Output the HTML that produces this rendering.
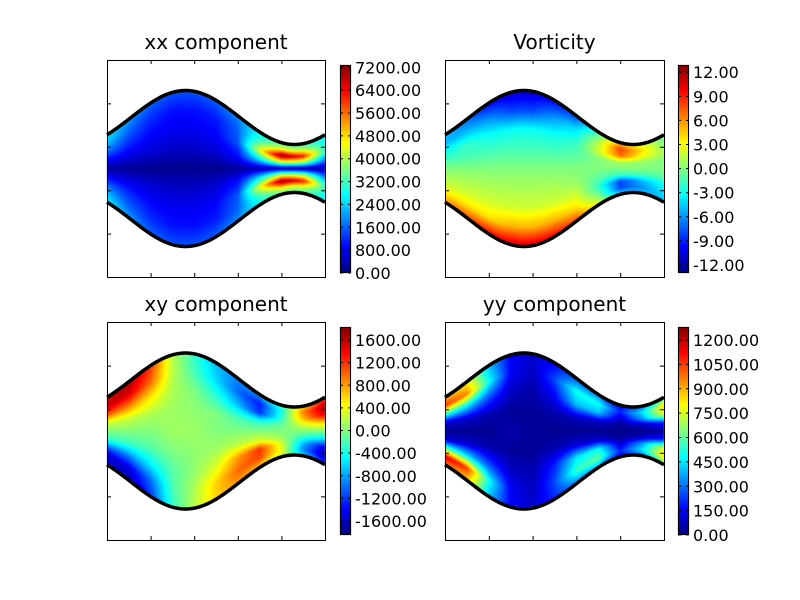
<!DOCTYPE html>
<html><head><meta charset="utf-8"><style>
body{margin:0;background:#fff;width:800px;height:600px;overflow:hidden;position:relative}
canvas,svg{position:absolute;left:0;top:0}
text{font-family:"DejaVu Sans","Liberation Sans",sans-serif;fill:#000}
</style></head><body>
<canvas id="cv" width="800" height="600"></canvas>
<svg id="sv" width="800" height="600"></svg>
<script>
// ---- data (rows: eta -1 (top wall) .. +1 (bottom wall); cols: 11 x positions across axes)
const xxGrid = [
[2600,2000,1600,1500,1500,1600,1900,2600,3200,3000,2600],
[2300,1600,1200,1000,1000,1100,1600,3200,4500,4200,2800],
[1700,1200,900,800,800,900,1500,4400,7200,6200,3000],
[900,700,600,500,500,600,1000,2600,4200,3800,1800],
[200,150,100,100,100,100,200,300,400,300,200],
[900,700,600,500,500,600,1000,2600,4200,3800,1800],
[1700,1200,900,800,800,900,1500,4400,7200,6200,3000],
[2300,1600,1200,1000,1000,1100,1600,3200,4500,4200,2800],
[2600,2000,1600,1500,1500,1600,1900,2600,3200,3000,2600]];
const vortGrid = [
[-5,-7,-10,-11,-11,-10,-8,-2,5,2,-1],
[-5,-5,-6,-8,-8,-6,-4,1,8,4,0],
[-3,-2,-3,-3,-3,-3,-2,2,7,3,1],
[-1.5,-1.5,-1.5,-1.5,-1.5,-1.5,-1,0,1,0.5,0],
[0,0,0,0,0,0,0,0,0,0,0],
[1,1,1,1,1,1,0.5,-1,-2,-1.5,-1],
[2,2,2,2,2,2,2,-2,-8,-5,-3],
[4,4,4,5,5,5,4,0,-8,-6,-4],
[6,8,10,11,11,10,8,3,-4,-5,-5]];
const xyGrid = [
[1500,1700,1200,200,-300,-700,-900,-800,-300,600,1200],
[1600,1500,1000,200,-200,-600,-1000,-1300,-400,900,1700],
[1100,900,500,150,0,-300,-700,-1200,-300,700,1500],
[300,250,150,100,50,0,-200,-300,-100,300,600],
[0,0,0,100,100,0,0,0,0,0,0],
[-300,-250,-150,0,50,100,200,300,100,-300,-600],
[-1100,-900,-500,-150,50,300,800,1200,300,-700,-1500],
[-1600,-1500,-1000,-200,150,600,1000,1100,400,-900,-1700],
[-1500,-1700,-1200,-300,200,600,800,600,200,-600,-1200]];
const yyGrid = [
[900,800,400,150,100,150,250,300,150,300,600],
[1050,950,500,150,80,250,500,500,200,450,850],
[550,450,250,80,50,150,400,400,100,350,750],
[100,100,60,30,30,50,80,80,30,80,200],
[20,20,20,60,30,20,20,20,20,20,30],
[100,100,60,30,30,60,100,100,30,80,200],
[600,450,250,80,60,200,450,500,100,350,750],
[1150,1050,500,150,80,250,550,600,200,450,850],
[950,850,400,150,100,200,300,350,150,300,600]];
const xxTicks = ["0.00","800.00","1600.00","2400.00","3200.00","4000.00","4800.00","5600.00","6400.00","7200.00"];
const xxTickVals = [0,800,1600,2400,3200,4000,4800,5600,6400,7200];
const vortTicks = ["-12.00","-9.00","-6.00","-3.00","0.00","3.00","6.00","9.00","12.00"];
const vortTickVals = [-12,-9,-6,-3,0,3,6,9,12];
const xyTicks = ["-1600.00","-1200.00","-800.00","-400.00","0.00","400.00","800.00","1200.00","1600.00"];
const xyTickVals = [-1600,-1200,-800,-400,0,400,800,1200,1600];
const yyTicks = ["0.00","150.00","300.00","450.00","600.00","750.00","900.00","1050.00","1200.00"];
const yyTickVals = [0,150,300,450,600,750,900,1050,1200];

const panels = [
 {name:"xx",title:"xx component",ax:[107,60,218,217],cb:[340,65,11,208],vmin:0,vmax:7280,grid:xxGrid,ticks:xxTicks,tv:xxTickVals},
 {name:"vorticity",title:"Vorticity",ax:[445,60,219,217],cb:[678,65,11,208],vmin:-13,vmax:12.9,grid:vortGrid,ticks:vortTicks,tv:vortTickVals},
 {name:"xy",title:"xy component",ax:[107,322,218,218],cb:[340,327,11,208],vmin:-1847,vmax:1831,grid:xyGrid,ticks:xyTicks,tv:xyTickVals},
 {name:"yy",title:"yy component",ax:[445,322,219,218],cb:[678,327,11,208],vmin:0,vmax:1280,grid:yyGrid,ticks:yyTicks,tv:yyTickVals}
];
function jet(t){t=Math.max(0,Math.min(1,t));const c=v=>Math.round(255*Math.max(0,Math.min(1,v)));
 return [c(1.5-Math.abs(4*t-3)),c(1.5-Math.abs(4*t-2)),c(1.5-Math.abs(4*t-1))];}
function halfW(fx){return 51+27*Math.cos(2*Math.PI*(fx-0.36));}
const cv=document.getElementById('cv'),ctx=cv.getContext('2d');
const img=ctx.createImageData(800,600);
const sv=document.getElementById('sv');const NS="http://www.w3.org/2000/svg";
function mk(tag,attrs,parent){const e=document.createElementNS(NS,tag);for(const k in attrs)e.setAttribute(k,attrs[k]);(parent||sv).appendChild(e);return e;}
function sample(g,c,r){const nc=g[0].length-1,nr=g.length-1;c=Math.max(0,Math.min(nc,c));r=Math.max(0,Math.min(nr,r));
 const c0=Math.min(nc-1,Math.floor(c)),r0=Math.min(nr-1,Math.floor(r)),fc=c-c0,fr=r-r0;
 return (g[r0][c0]*(1-fc)+g[r0][c0+1]*fc)*(1-fr)+(g[r0+1][c0]*(1-fc)+g[r0+1][c0+1]*fc)*fr;}
panels.forEach(p=>{
 const [x0,y0,w,h]=p.ax;const cy=y0+h/2;
 for(let px=x0;px<x0+w;px++){const fx=(px+0.5-x0)/w;const hw=halfW(fx);
  for(let py=Math.floor(cy-hw);py<=Math.ceil(cy+hw);py++){const eta=(py+0.5-cy)/hw;if(Math.abs(eta)>1)continue;
   const v=sample(p.grid,fx*10,(eta+1)/2*8);const col=jet((v-p.vmin)/(p.vmax-p.vmin));
   const i=(py*800+px)*4;img.data[i]=col[0];img.data[i+1]=col[1];img.data[i+2]=col[2];img.data[i+3]=255;}}
 const [bx,by,bw,bh]=p.cb;
 for(let py=by;py<by+bh;py++){const col=jet(1-(py+0.5-by)/bh);for(let px=bx;px<bx+bw;px++){const i=(py*800+px)*4;img.data[i]=col[0];img.data[i+1]=col[1];img.data[i+2]=col[2];img.data[i+3]=255;}}
});
ctx.putImageData(img,0,0);
panels.forEach(p=>{
 const [x0,y0,w,h]=p.ax;const cy=y0+h/2;
 const g=mk('g',{});
 
 
 ['top','bottom'].forEach(side=>{let d='';for(let px=0;px<=w;px+=1){const hw=halfW(px/w);const y=side==='top'?cy-hw:cy+hw;d+=(px?'L':'M')+(x0+px)+' '+y.toFixed(2);}
  const pth=mk('path',{d:d,fill:'none',stroke:'#000','stroke-width':3.5},g);
  
  });
 const fr=mk('rect',{x:x0+0.5,y:y0+0.5,width:w,height:h,fill:'none',stroke:'#000','stroke-width':1},g);
 
 
 for(let k=1;k<5;k++){const tx=x0+0.5+w*k/5,ty=y0+0.5+h*k/5;
  mk('path',{d:`M${tx} ${y0}v4M${tx} ${y0+h}v-4M${x0} ${ty}h4M${x0+w} ${ty}h-4`,stroke:'#000','stroke-width':1},g);}
 const t=mk('text',{x:x0+w/2,y:y0-11,'text-anchor':'middle','font-size':20},g);t.textContent=p.title;
 
 
 const [bx,by,bw,bh]=p.cb;
 const cbr=mk('rect',{x:bx+0.5,y:by+0.5,width:bw-1,height:bh-1,fill:'none',stroke:'#000','stroke-width':1},g);
 
 
 p.tv.forEach((v,i)=>{const y=by+bh-(v-p.vmin)/(p.vmax-p.vmin)*bh;
  mk('path',{d:`M${bx} ${y}h3M${bx+bw} ${y}h-3`,stroke:'#000','stroke-width':1},g);
  const lt=mk('text',{x:bx+bw+4,y:y+6,'font-size':16},g);lt.textContent=p.ticks[i];
  
  });
});
</script>
</body></html>
